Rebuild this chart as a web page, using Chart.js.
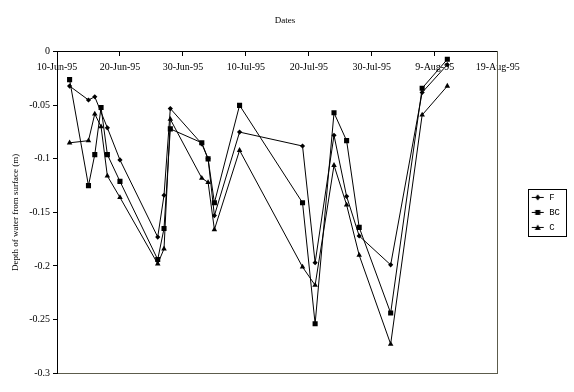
<!DOCTYPE html>
<html><head><meta charset="utf-8">
<script src="https://cdn.jsdelivr.net/npm/chart.js@4/dist/chart.umd.min.js"></script>
<style>html,body{margin:0;padding:0;background:#fff;}</style>
</head><body>
<canvas id="c" width="574" height="392"></canvas>
<script>
// ---- data ----
const startDate = '1995-06-10';
const dates = ['1995-06-12','1995-06-15','1995-06-16','1995-06-17','1995-06-18','1995-06-20',
  '1995-06-26','1995-06-27','1995-06-28','1995-07-03','1995-07-04','1995-07-05','1995-07-09',
  '1995-07-19','1995-07-21','1995-07-24','1995-07-26','1995-07-28','1995-08-02','1995-08-07','1995-08-11'];
const F  = [-0.032,-0.045,-0.042,null,-0.071,-0.101,-0.173,-0.134,-0.053,-0.086,-0.100,-0.153,-0.075,
  -0.088,-0.197,-0.078,-0.135,-0.172,-0.199,-0.038,-0.012];
const BC = [-0.026,-0.125,-0.096,-0.052,-0.096,-0.121,-0.194,-0.165,-0.072,-0.085,-0.100,-0.141,-0.050,
  -0.141,-0.254,-0.057,-0.083,-0.164,-0.244,-0.034,-0.007];
const C  = [-0.085,-0.083,-0.058,-0.070,-0.116,-0.136,-0.198,-0.184,-0.063,-0.118,-0.122,-0.166,-0.092,
  -0.201,-0.218,-0.106,-0.143,-0.190,-0.273,-0.059,-0.032];
const seriesNames = ['F','BC','C'];
const xTickLabels = ['10-Jun-95','20-Jun-95','30-Jun-95','10-Jul-95','20-Jul-95','30-Jul-95','9-Aug-95','19-Aug-95'];
const yTickLabels = ['0','-0.05','-0.1','-0.15','-0.2','-0.25','-0.3'];

// ---- helpers ----
const DAY = 86400000;
const dayOf = d => (Date.parse(d) - Date.parse(startDate)) / DAY;
const toPoints = vals => dates.map((d,i)=>({x: dayOf(d), y: vals[i]})).filter(p => p.y !== null);

function icon(kind){
  const c = document.createElement('canvas'); c.width = 14; c.height = 9;
  const g = c.getContext('2d');
  g.strokeStyle = '#000'; g.fillStyle = '#000'; g.lineWidth = 1;
  g.beginPath(); g.moveTo(1, 4.5); g.lineTo(13, 4.5); g.stroke();
  g.beginPath();
  if (kind === 'd') { g.moveTo(7,1.5); g.lineTo(9.5,4.5); g.lineTo(7,7.5); g.lineTo(4.5,4.5); g.closePath(); g.fill(); }
  else if (kind === 's') { g.fillRect(4.5,2,5,5); }
  else { g.moveTo(7,1.5); g.lineTo(10,7); g.lineTo(4,7); g.closePath(); g.fill(); }
  return c;
}
const icons = [icon('d'), icon('s'), icon('t')];

const frameColor = '#5c5c4c';
const serif = 'Liberation Serif';

const legendBox = {
  id: 'legendBox',
  afterLayout(chart){
    const lg = chart.legend, ca = chart.chartArea;
    if (!lg || !ca) return;
    lg.top = ca.top; lg.bottom = ca.bottom; lg.height = ca.bottom - ca.top;
  },
  afterDraw(chart){
    const hb = chart.legend && chart.legend.legendHitBoxes;
    if (!hb || !hb.length) return;
    const ctx = chart.ctx;
    const l = Math.min(...hb.map(h=>h.left)) - 3;
    const r = Math.max(...hb.map(h=>h.left + h.width)) + 6;
    const t = hb[0].top - 4;
    const b = hb[hb.length-1].top + hb[hb.length-1].height + 4;
    ctx.save(); ctx.strokeStyle = '#000'; ctx.lineWidth = 1;
    ctx.strokeRect(Math.round(l)+0.5, Math.round(t)+0.5, Math.round(r-l), Math.round(b-t));
    ctx.restore();
  }
};

const ds = (i, vals, style, radius) => ({
  label: seriesNames[i], data: toPoints(vals), xAxisID: 'x', yAxisID: 'y',
  showLine: true, borderColor: '#000', backgroundColor: '#000', borderWidth: 1,
  pointStyle: style, pointRadius: radius, pointHoverRadius: radius, pointBorderWidth: 0,
  pointBackgroundColor: '#000', tension: 0
});

new Chart(document.getElementById('c'), {
  type: 'scatter',
  data: { datasets: [ ds(0, F, 'rectRot', 2.6), ds(1, BC, 'rect', 3.6), ds(2, C, 'triangle', 3.2) ] },
  options: {
    responsive: false, animation: false, devicePixelRatio: 1,
    layout: { padding: { left: 0, right: 4, top: 0, bottom: 19 } },
    plugins: {
      tooltip: { enabled: false },
      title: { display: true, text: 'Dates', color: '#000', font: { family: serif, size: 9, weight: 'normal' }, padding: { top: 15, bottom: 26 } },
      legend: {
        position: 'right', align: 'center',
        labels: {
          usePointStyle: true, pointStyleWidth: 14, padding: 6, color: '#000',
          font: { family: 'Liberation Mono', size: 9 },
          generateLabels: (chart) => chart.data.datasets.map((d, i) => ({
            text: d.label, pointStyle: icons[i], fillStyle: '#000', strokeStyle: '#000',
            lineWidth: 0, hidden: false, datasetIndex: i, fontColor: '#000'
          }))
        }
      }
    },
    scales: {
      x: {
        type: 'linear', axis: 'x', position: { y: 0 }, min: 0, max: 70,
        afterFit: s => { s.height = 0; },
        grid: { display: true, drawOnChartArea: false, drawTicks: true, tickLength: 4, color: '#000' },
        border: { display: true, color: '#000', width: 1 },
        ticks: { stepSize: 10, maxRotation: 0, autoSkip: false, padding: 6, color: '#000',
          font: { family: serif, size: 10 },
          callback: v => xTickLabels[Math.round(v / 10)] }
      },
      x2: {
        type: 'linear', axis: 'x', position: 'bottom', min: 0, max: 70,
        afterFit: s => { s.height = 0; },
        grid: { display: false }, ticks: { display: false },
        border: { display: true, color: frameColor, width: 1 }
      },
      y: {
        type: 'linear', position: 'left', min: -0.3, max: 0,
        afterFit: s => { s.width = 57; },
        grid: { display: true, drawOnChartArea: false, drawTicks: true, tickLength: 4, color: '#000' },
        border: { display: true, color: '#000', width: 1 },
        title: { display: true, text: 'Depth of water from surface (m)', color: '#000',
          font: { family: serif, size: 9 }, padding: { top: 10, bottom: 0 } },
        ticks: { stepSize: 0.05, padding: 3, color: '#000', font: { family: serif, size: 10 },
          callback: v => yTickLabels[Math.round(-v / 0.05)] }
      },
      y2: {
        type: 'linear', position: 'right', min: -0.3, max: 0,
        afterFit: s => { s.width = 27; },
        grid: { display: false }, ticks: { display: false },
        border: { display: true, color: frameColor, width: 1 }
      }
    }
  },
  plugins: [legendBox]
});
</script>
</body></html>
